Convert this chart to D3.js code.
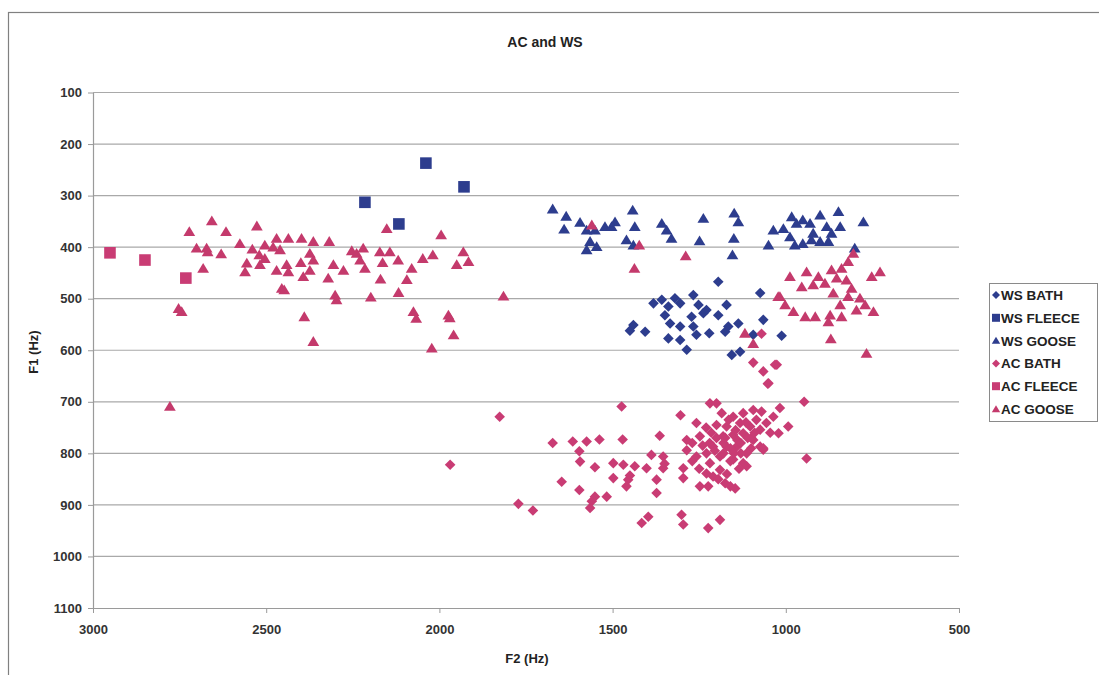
<!DOCTYPE html>
<html>
<head>
<meta charset="utf-8">
<script src="https://cdn.jsdelivr.net/npm/d3@7"></script>
<style>
  html, body { margin: 0; padding: 0; background: #fff; }
  svg { display: block; }
</style>
</head>
<body>
<svg id="chart" width="1099" height="675"></svg>
<script>
// Vowel formants: F2 (Hz) on x, F1 (Hz) on y, for two speakers (WS, AC)

const xTicks = [3000, 2500, 2000, 1500, 1000, 500];
const yTicks = [100, 200, 300, 400, 500, 600, 700, 800, 900, 1000, 1100];

const wsBath = [
  [1195,467],[1074,489],[1382,509],[1358,502],[1339,515],[1320,499],[1305,509],[1267,493],
  [1252,512],[1238,528],[1229,522],[1171,512],[1195,532],[1349,532],[1334,548],[1305,554],
  [1272,535],[1267,554],[1258,570],[1221,567],[1175,564],[1166,554],[1137,548],[1065,541],
  [1012,572],[1440,551],[1450,562],[1406,564],[1339,577],[1305,580],[1286,599],[1156,609],
  [1132,603],[1094,570]
];

const wsFleece = [[2215,313],[2117,355],[2039,237],[1929,283]];

const wsGoose = [
  [1673,326],[1634,340],[1640,365],[1594,352],[1575,367],[1551,367],[1565,389],[1575,405],
  [1546,399],[1522,360],[1503,360],[1493,351],[1442,328],[1436,360],[1460,386],[1440,396],
  [1358,354],[1344,367],[1330,383],[1238,344],[1249,388],[1149,334],[1137,351],[1150,383],
  [1154,415],[1036,367],[1050,396],[983,341],[1007,364],[969,354],[951,347],[930,354],
  [901,338],[882,360],[848,331],[843,360],[974,396],[951,393],[926,386],[901,389],
  [877,389],[868,373],[801,402],[776,351],[921,373],[988,380]
];

const acBath = [
  [1826,729],[1969,822],[1772,898],[1730,911],
  [1052,665],[1474,709],[1304,726],[1219,703],[1200,703],[947,700],
  [1673,780],[1615,777],[1575,777],[1538,773],[1471,773],[1364,766],
  [1596,796],[1594,816],[1551,827],[1498,819],[1469,822],[1436,825],[1402,829],[1388,803],
  [1354,806],[1350,820],[1354,829],[1498,848],[1455,851],[1450,843],[1460,864],[1373,851],
  [1373,877],[1296,829],[1296,848],[1647,855],[1596,871],[1551,884],[1517,884],[1565,906],
  [1560,893],[1416,935],[1397,923],[1301,919],[1296,938],[1224,945],[1190,929],[940,810],
  [1258,741],[1286,774],[1248,767],[1286,794],[1258,806],[1229,800],[1210,787],[1185,722],
  [1152,729],[1123,722],[1094,716],[1070,719],[1017,712],[1036,729],[993,748],[1021,761],
  [1056,741],[1074,754],[1103,748],[1132,741],[1171,748],[1200,745],[1181,767],[1152,764],
  [1123,761],[1094,774],[1074,787],[1065,793],[1113,800],[1142,787],[1171,787],[1190,806],
  [1152,812],[1123,819],[1113,825],[1219,819],[1190,832],[1210,845],[1229,839],[1248,864],
  [1224,864],[1175,858],[1146,868],[1160,864],[1250,830],[1140,774],
  [1160,790],[1130,800],[1100,790],[1180,780],[1200,770],[1215,760],[1240,785],[1270,815],
  [1230,750],[1165,735],[1085,735],[1045,760],[1130,780],[1100,770],[1160,815],[1195,850],
  [1270,780],[1145,755],[1115,740],[1180,800],[1205,795],[1135,830],[1170,840],[1110,770],
  [1150,800],[1090,760],[1220,780],[1175,770],
  [1026,628],[1065,641],[1050,664],[1065,790],[1070,568],[1094,624],[1031,628]
];

const acFleece = [[2951,411],[2850,425],[2732,460]];

const acGoose = [
  [2657,349],[2722,370],[2616,370],[2527,359],[2701,402],[2672,402],[2669,409],[2630,413],
  [2682,441],[2576,393],[2540,404],[2504,396],[2470,383],[2436,383],[2398,383],[2364,389],
  [2318,389],[2253,407],[2556,431],[2561,448],[2518,434],[2504,422],[2470,445],[2441,434],
  [2436,448],[2460,405],[2455,480],[2448,483],[2393,457],[2374,445],[2364,425],[2374,412],
  [2321,460],[2306,434],[2277,445],[2301,493],[2297,502],[2753,519],[2744,525],[2390,535],
  [2364,583],[2778,709],[2239,412],[2520,415],[2480,400],[2400,430],
  [2152,364],[1995,376],[2220,402],[2229,425],[2215,441],[2172,409],[2143,409],[2119,425],
  [2164,430],[2080,441],[2094,463],[2170,462],[2048,422],[2019,415],[1931,409],[1950,434],
  [1916,428],[2198,497],[2118,488],[2075,525],[2067,538],[1974,532],[1970,537],[1959,570],
  [2022,596],[1815,495],
  [1560,357],[1423,396],[1437,441],[1289,417],[1118,567],[1094,587],[1022,496],
  [805,412],[820,428],[839,441],[988,457],[940,448],[906,457],[868,444],[853,460],
  [954,477],[921,473],[887,470],[825,464],[810,480],[752,457],[728,448],[863,489],
  [820,496],[786,499],[1017,496],[1002,512],[978,525],[944,535],[915,535],[872,532],
  [877,545],[839,535],[796,522],[771,512],[747,525],[767,606],[870,578],[843,512]
];

const BLUE = "#2d3d8e";
const PINK = "#c93c74";

const seriesNames = ["WS BATH", "WS FLEECE", "WS GOOSE", "AC BATH", "AC FLEECE", "AC GOOSE"];
const seriesData = [wsBath, wsFleece, wsGoose, acBath, acFleece, acGoose];
const seriesShapes = ["diamond", "square", "triangle", "diamond", "square", "triangle"];
const seriesColors = [BLUE, BLUE, BLUE, PINK, PINK, "#c43a6c"];

// marker path generators, centred on the origin
function shapePath(kind, r) {
  if (kind === "diamond") return `M0,${-r}L${r},0L0,${r}L${-r},0Z`;
  if (kind === "square") return `M${-r},${-r}H${r}V${r}H${-r}Z`;
  const h = r * 1.75;
  return `M0,${-h * 0.55}L${r * 1.05},${h * 0.45}L${-r * 1.05},${h * 0.45}Z`;
}

const svg = d3.select("#chart");
const FONT = "Liberation Sans, Arial, sans-serif";

// outer chart frame
svg.append("rect")
  .attr("x", 8.5).attr("y", 12.5)
  .attr("width", 1100).attr("height", 700)
  .attr("fill", "none").attr("stroke", "#808080").attr("stroke-width", 1.2);

const plotLeft = 93, plotRight = 959, plotTop = 92.5, plotBottom = 608;

const x = d3.scaleLinear().domain([3000, 500]).range([plotLeft, plotRight]);
const y = d3.scaleLinear().domain([100, 1100]).range([plotTop, plotBottom]);

// horizontal gridlines
svg.append("g")
  .selectAll("line")
  .data(yTicks.slice(0, -1))
  .join("line")
  .attr("x1", plotLeft).attr("x2", plotRight)
  .attr("y1", d => y(d)).attr("y2", d => y(d))
  .attr("stroke", "#a9a9a9").attr("stroke-width", 1.2);

// y axis
const yAxis = svg.append("g")
  .attr("transform", `translate(${plotLeft},0)`)
  .call(d3.axisLeft(y).tickValues(yTicks).tickFormat(d3.format("d"))
    .tickSize(5).tickPadding(6).tickSizeOuter(0));
yAxis.select(".domain").attr("stroke", "#9a9a9a").attr("stroke-width", 1.2);
yAxis.selectAll(".tick line").attr("stroke", "#9a9a9a");
yAxis.selectAll("text")
  .attr("font-family", FONT).attr("font-weight", "bold")
  .attr("font-size", 13).attr("fill", "#333");

// x axis
const xAxis = svg.append("g")
  .attr("transform", `translate(0,${plotBottom})`)
  .call(d3.axisBottom(x).tickValues(xTicks).tickFormat(d3.format("d"))
    .tickSize(5).tickPadding(12).tickSizeOuter(0));
xAxis.select(".domain").attr("stroke", "#9a9a9a").attr("stroke-width", 1.2);
xAxis.selectAll(".tick line").attr("stroke", "#9a9a9a");
xAxis.selectAll("text")
  .attr("font-family", FONT).attr("font-weight", "bold")
  .attr("font-size", 13).attr("fill", "#333");

// data markers
const markerR = { diamond: 5.3, square: 5.8, triangle: 5.6 };
seriesData.forEach((data, i) => {
  const kind = seriesShapes[i];
  svg.append("g")
    .selectAll("path")
    .data(data)
    .join("path")
    .attr("transform", d => `translate(${x(d[0])},${y(d[1])})`)
    .attr("d", shapePath(kind, markerR[kind]))
    .attr("fill", seriesColors[i]);
});

// title and axis titles
svg.append("text")
  .attr("x", 545).attr("y", 47)
  .attr("text-anchor", "middle")
  .attr("font-family", FONT)
  .attr("font-weight", "bold").attr("font-size", 14).attr("fill", "#222")
  .text("AC and WS");

svg.append("text")
  .attr("x", 527).attr("y", 663)
  .attr("text-anchor", "middle")
  .attr("font-family", FONT)
  .attr("font-weight", "bold").attr("font-size", 13).attr("fill", "#222")
  .text("F2 (Hz)");

svg.append("text")
  .attr("transform", "translate(38,352) rotate(-90)")
  .attr("text-anchor", "middle")
  .attr("font-family", FONT)
  .attr("font-weight", "bold").attr("font-size", 13).attr("fill", "#222")
  .text("F1 (Hz)");

// legend
const legend = svg.append("g");
legend.append("rect")
  .attr("x", 989.5).attr("y", 283.5)
  .attr("width", 108).attr("height", 138)
  .attr("fill", "#fff").attr("stroke", "#8a8a8a").attr("stroke-width", 1);

const legendRows = legend.selectAll("g.item")
  .data(seriesNames)
  .join("g")
  .attr("class", "item")
  .attr("transform", (d, i) => `translate(0,${295 + i * 22.8})`);

legendRows.append("path")
  .attr("transform", "translate(996,0)")
  .attr("d", (d, i) => shapePath(seriesShapes[i], 4))
  .attr("fill", (d, i) => seriesColors[i]);

legendRows.append("text")
  .attr("x", 1001).attr("y", 5)
  .attr("font-family", FONT).attr("font-weight", "bold")
  .attr("font-size", 13.5).attr("fill", "#222")
  .text(d => d);
</script>
</body>
</html>
